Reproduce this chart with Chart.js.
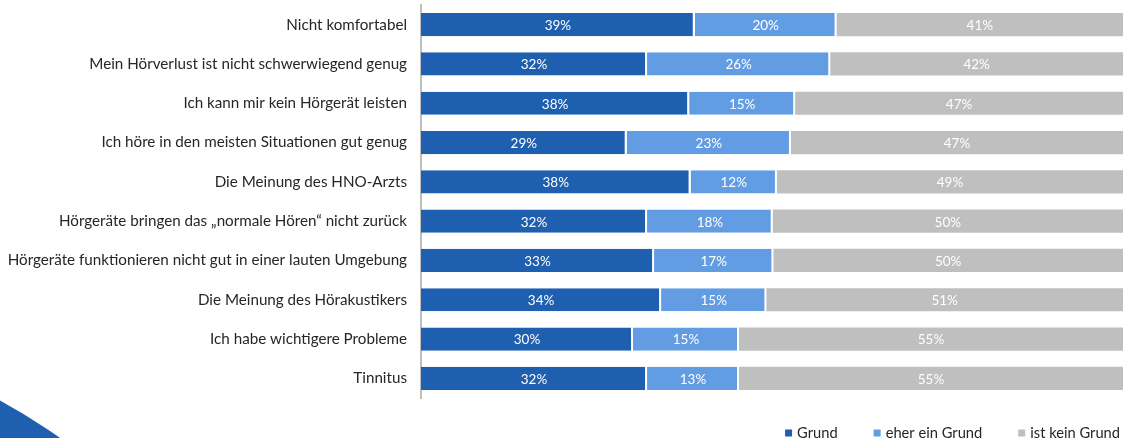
<!DOCTYPE html>
<html lang="de">
<head>
<meta charset="utf-8">
<title>Gründe gegen ein Hörgerät</title>
<script src="https://cdn.jsdelivr.net/npm/chart.js@4.4.1/dist/chart.umd.min.js"></script>
<style>
  html, body { margin: 0; padding: 0; background: #fff; overflow: hidden; }
  #wrap { position: relative; width: 1123px; height: 438px; }
  #deko {
    position: absolute; left: -926px; top: 324px;
    width: 1252px; height: 1252px; border-radius: 50%;
    background: #1F5FAF;
  }
  canvas { position: absolute; left: 0; top: 0; }
</style>
</head>
<body>
<div id="wrap">
  <div id="deko"></div>
  <canvas id="gruendeChart" width="1123" height="438"></canvas>
</div>
<script>
// Kategorien (von oben nach unten)
const kategorien = [
    'Nicht komfortabel',
    'Mein Hörverlust ist nicht schwerwiegend genug',
    'Ich kann mir kein Hörgerät leisten',
    'Ich höre in den meisten Situationen gut genug',
    'Die Meinung des HNO-Arzts',
    'Hörgeräte bringen das „normale Hören“ nicht zurück',
    'Hörgeräte funktionieren nicht gut in einer lauten Umgebung',
    'Die Meinung des Hörakustikers',
    'Ich habe wichtigere Probleme',
    'Tinnitus'
];

// Anteile in Prozent, aus dem Bild geschätzt
const grund = [39.0, 32.2, 38.2, 29.3, 38.4, 32.2, 33.2, 34.2, 30.2, 32.2];
const eherGrund = [20.2, 26.1, 15.1, 23.4, 12.3, 17.9, 17.0, 15.0, 15.1, 13.1];
const keinGrund = [40.8, 41.7, 46.7, 47.3, 49.3, 49.9, 49.8, 50.8, 54.7, 54.7];

const serienNamen = ['Grund', 'eher ein Grund', 'ist kein Grund'];
const farben = ['#1F5FAF', '#629DE3', '#BFBFBF'];

const schrift = 'Lato, sans-serif';

// Prozentwerte in die Balken schreiben
const balkenLabels = {
    id: 'balkenLabels',
    afterDatasetsDraw(chart) {
        const ctx = chart.ctx;
        ctx.save();
        ctx.font = '13.5px ' + schrift;
        ctx.fillStyle = '#FFFFFF';
        ctx.textAlign = 'center';
        ctx.textBaseline = 'middle';
        chart.data.datasets.forEach((ds, i) => {
            const meta = chart.getDatasetMeta(i);
            meta.data.forEach((bar, j) => {
                const p = bar.getProps(['x', 'y', 'base'], true);
                const mitte = (p.x + p.base) / 2;
                ctx.fillText(Math.round(ds.data[j]) + '%', mitte, p.y + 1);
            });
        });
        ctx.restore();
    }
};

// Legende unten rechts
const legendeUnten = {
    id: 'legendeUnten',
    afterDraw(chart) {
        const ctx = chart.ctx;
        ctx.save();
        ctx.font = '14.7px ' + schrift;
        ctx.textBaseline = 'middle';
        const y = 433;
        const box = 7;
        const abstand = 36;
        let x = chart.width - 3;
        for (let i = chart.data.datasets.length - 1; i >= 0; i--) {
            const ds = chart.data.datasets[i];
            const breite = ctx.measureText(ds.label).width;
            x -= breite;
            ctx.fillStyle = '#262626';
            ctx.fillText(ds.label, x, y);
            ctx.fillStyle = ds.backgroundColor;
            ctx.fillRect(x - 5 - box, y - box / 2, box, box);
            x -= 5 + box + abstand;
        }
        ctx.restore();
    }
};

const datenreihen = [grund, eherGrund, keinGrund];

new Chart(document.getElementById('gruendeChart'), {
    type: 'bar',
    data: {
        labels: kategorien,
        datasets: datenreihen.map((werte, i) => ({
            label: serienNamen[i],
            data: werte,
            backgroundColor: farben[i],
            borderColor: '#FFFFFF',
            borderWidth: { top: 0, bottom: 0, left: 0, right: i < 2 ? 2 : 0 },
            borderSkipped: false,
            barPercentage: 0.59,
            categoryPercentage: 1.0
        }))
    },
    options: {
        indexAxis: 'y',
        responsive: false,
        animation: false,
        devicePixelRatio: 1,
        layout: { padding: { top: 5, right: 0, bottom: 40, left: 0 } },
        plugins: {
            legend: { display: false },
            tooltip: { enabled: false }
        },
        scales: {
            x: {
                stacked: true,
                display: false,
                min: 0,
                max: 100
            },
            y: {
                stacked: true,
                grid: { display: false, drawTicks: false },
                border: { display: true, color: '#BFBFBF', width: 2 },
                ticks: {
                    color: '#262626',
                    padding: 14,
                    font: { family: schrift, size: 15.2 }
                },
                afterFit(scale) {
                    scale.width = 421;
                    scale.paddingTop = 0;
                    scale.paddingBottom = 0;
                }
            }
        }
    },
    plugins: [balkenLabels, legendeUnten]
});
</script>
</body>
</html>
